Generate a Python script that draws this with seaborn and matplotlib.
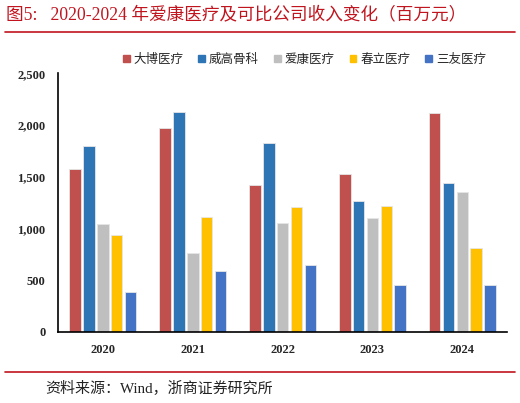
import numpy as np
import pandas as pd
import matplotlib
matplotlib.use("Agg")
import matplotlib.pyplot as plt
import seaborn as sns

# data (百万元)
years = ["2020", "2021", "2022", "2023", "2024"]
companies = ["大博医疗", "威高骨科", "爱康医疗", "春立医疗", "三友医疗"]
dabo = [1570, 1968, 1416, 1522, 2112]
weigao = [1793, 2122, 1822, 1264, 1438]
aikang = [1040, 765, 1052, 1096, 1351]
chunli = [935, 1110, 1206, 1215, 806]
sanyou = [384, 587, 642, 455, 448]
colors = ["#C0504D", "#2E75B6", "#BFBFBF", "#FFC000", "#4472C4"]

df = pd.DataFrame({
    "year": years * 5,
    "company": np.repeat(companies, 5),
    "value": dabo + weigao + aikang + chunli + sanyou,
})

sns.set_style("white")
plt.rcParams["font.family"] = ["Liberation Serif", "Noto Sans CJK SC", "DejaVu Sans"]

fig = plt.figure(figsize=(5.2, 4.03), dpi=100)
ax = fig.add_axes([0.1115, 0.177, 0.864, 0.641])

sns.barplot(data=df, x="year", y="value", hue="company", palette=colors,
            saturation=1, width=0.77, gap=0.17, ax=ax, legend=False,
            edgecolor="#e6e6e6", linewidth=0.6)

ax.set_ylim(0, 2500)
ax.set_xlim(-0.5, 4.5)
ax.set_yticks([0, 500, 1000, 1500, 2000, 2500])
ax.set_yticklabels(["0", "500", "1,000", "1,500", "2,000", "2,500"],
                   fontsize=9, fontweight="bold")
ax.set_xticks(range(5))
ax.set_xticklabels(years, fontsize=9, fontweight="bold")
ax.set_xticks(np.arange(-0.5, 5, 1), minor=True)
ax.tick_params(axis="x", which="major", length=0, pad=9)
ax.tick_params(axis="x", which="minor", length=4, width=1, direction="out", color="black")
ax.tick_params(axis="y", length=3, width=1, direction="out", color="black", pad=6)
ax.set_xlabel("")
ax.set_ylabel("")
for s in ["top", "right"]:
    ax.spines[s].set_visible(False)
for s in ["left", "bottom"]:
    ax.spines[s].set_color("black")
    ax.spines[s].set_linewidth(1.2)

# legend
handles = [plt.Rectangle((0, 0), 1, 1, color=c) for c in colors]
fig.legend(handles, companies, loc="center", bbox_to_anchor=(0.585, 0.853),
           ncol=5, frameon=False, handlelength=0.55, handleheight=0.55,
           handletextpad=0.3, columnspacing=1.2,
           prop={"family": ["Noto Sans CJK SC"], "size": 9})

# title and source
fig.text(0.012, 0.963, "图5:   2020-2024 年爱康医疗及可比公司收入变化（百万元）",
         color="#C0141E", fontsize=12.7, va="center", ha="left")
fig.add_artist(plt.Line2D([0.01, 0.99], [0.92, 0.92], color="#C0141E", lw=1.2,
                          transform=fig.transFigure))
fig.add_artist(plt.Line2D([0.01, 0.99], [0.077, 0.077], color="#C0141E", lw=1.2,
                          transform=fig.transFigure))
fig.text(0.087, 0.037, "资料来源：Wind，浙商证券研究所", fontsize=10.8,
         va="center", ha="left", color="#222222")

fig.savefig("out.png", dpi=100)
